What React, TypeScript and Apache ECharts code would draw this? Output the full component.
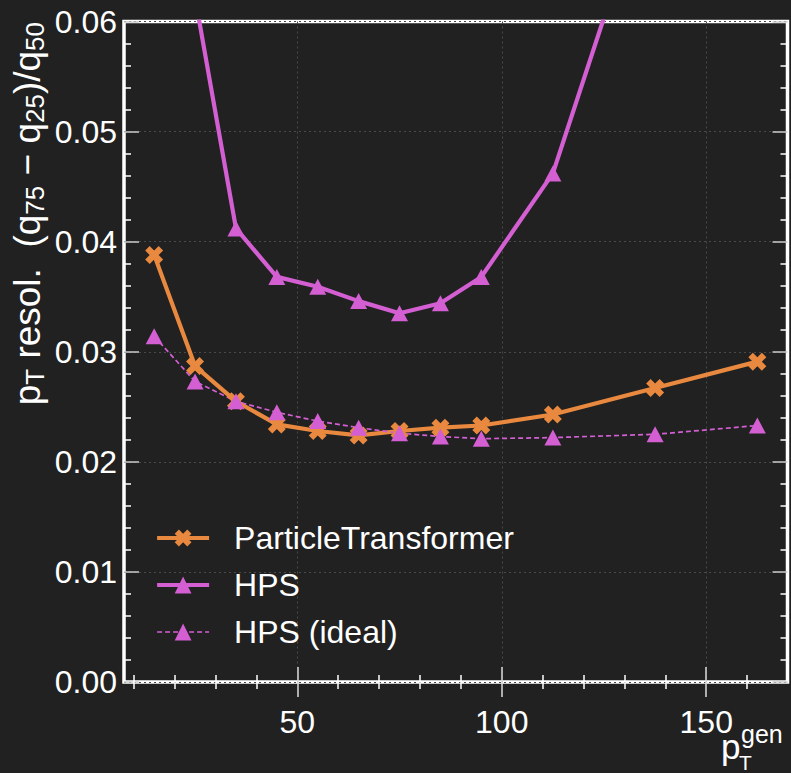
import React, { useEffect, useRef } from "react";
import * as echarts from "echarts";

const ptBins = [15, 25, 35, 45, 55, 65, 75, 85, 95, 112.5, 137.5, 162.5];
const partTransformer = [0.0388, 0.0287, 0.0255, 0.0234, 0.0228, 0.0224, 0.0228, 0.0231, 0.0233, 0.0243, 0.0267, 0.0291];
const hps = [0.085, 0.0622, 0.0412, 0.0368, 0.0359, 0.0346, 0.0335, 0.0344, 0.0368, 0.0462, 0.0745, 0.105];
const hpsIdeal = [0.0314, 0.0273, 0.0255, 0.0245, 0.0237, 0.0231, 0.0226, 0.0223, 0.0221, 0.0222, 0.0225, 0.0233];

const xMajor = [50, 100, 150];
const xMinor = [10, 20, 30, 40, 60, 70, 80, 90, 110, 120, 130, 140, 160];
const yMinor = [0.002, 0.004, 0.006, 0.008, 0.012, 0.014, 0.016, 0.018, 0.022, 0.024, 0.026, 0.028, 0.032, 0.034, 0.036, 0.038, 0.042, 0.044, 0.046, 0.048, 0.052, 0.054, 0.056, 0.058];

const X_MIN = 7.625;
const X_MAX = 169.875;

const ORANGE = "#e8893f";
const VIOLET = "#d35fd3";
const FONT = "Liberation Sans";
const X_SYMBOL = "path://M14,-28L28,-14L14,0L28,14L14,28L0,14L-14,28L-28,14L-14,0L-28,-14L-14,-28L0,-14Z";

export default function App() {
  const ref = useRef<HTMLDivElement>(null);
  useEffect(() => {
    document.body.style.margin = "0";
    const chart = echarts.init(ref.current!, null, { renderer: "svg" });
    const xAxisCommon = (pos: string, values: number[], len: number, color: string, labels: boolean, split: boolean) => ({
      type: "value",
      position: pos,
      min: X_MIN,
      max: X_MAX,
      axisLine: { show: false },
      axisTick: { show: true, inside: true, length: len, customValues: values, lineStyle: { color, width: 1.5 } },
      axisLabel: labels
        ? { show: true, customValues: values, margin: 24, color: "#ffffff", fontSize: 32, fontFamily: FONT }
        : { show: false },
      splitLine: split ? { show: true, lineStyle: { color: "#4a4a4a", type: [2, 3], width: 1 } } : { show: false },
    });
    const yAxisCommon = (pos: string, major: boolean, labels: boolean) => ({
      type: "value",
      position: pos,
      min: 0,
      max: 0.06,
      ...(major ? { interval: 0.01 } : {}),
      axisLine: { show: false },
      axisTick: major
        ? { show: true, inside: true, length: 15, lineStyle: { color: "#cccccc", width: 1.5 } }
        : { show: true, inside: true, length: 7, customValues: yMinor, lineStyle: { color: "#ffffff", width: 1.5 } },
      axisLabel: labels
        ? { show: true, margin: 7, color: "#ffffff", fontSize: 32, fontFamily: FONT, formatter: (v: number) => v.toFixed(2) }
        : { show: false },
      splitLine: major && labels ? { show: true, lineStyle: { color: "#4a4a4a", type: [2, 3], width: 1 } } : { show: false },
    });

    chart.setOption({
      animation: false,
      backgroundColor: "#212121",
      grid: { left: 124, right: 3.5, top: 21.5, bottom: 91, show: true, borderColor: "#ffffff", borderWidth: 3.5, backgroundColor: "transparent" },
      xAxis: [
        xAxisCommon("bottom", xMajor, 15, "#dddddd", true, true),
        xAxisCommon("bottom", xMinor, 7, "#ffffff", false, false),
        xAxisCommon("top", xMajor, 15, "#dddddd", false, false),
        xAxisCommon("top", xMinor, 7, "#ffffff", false, false),
      ],
      yAxis: [
        yAxisCommon("left", true, true),
        yAxisCommon("left", false, false),
        yAxisCommon("right", true, false),
        yAxisCommon("right", false, false),
      ],
      legend: {
        orient: "vertical",
        left: 155,
        top: 522,
        padding: 0,
        itemWidth: 52,
        itemHeight: 21,
        itemGap: 15,
        textStyle: { color: "#ffffff", fontSize: 32, fontFamily: FONT, lineHeight: 32, padding: [0, 0, 0, 20] },
        data: [
          { name: "ParticleTransformer", lineStyle: { width: 4.2 } },
          { name: "HPS", lineStyle: { width: 4.2 } },
          { name: "HPS (ideal)", lineStyle: { width: 1.7, type: [5, 3] } },
        ],
      },
      series: [
        {
          name: "ParticleTransformer",
          type: "line",
          data: ptBins.map((x, i) => [x, partTransformer[i]]),
          symbol: X_SYMBOL,
          symbolSize: 18,
          itemStyle: { color: ORANGE },
          lineStyle: { color: ORANGE, width: 4.2 },
        },
        {
          name: "HPS",
          type: "line",
          data: ptBins.map((x, i) => [x, hps[i]]),
          symbol: "triangle",
          symbolSize: [17, 16],
          itemStyle: { color: VIOLET },
          lineStyle: { color: VIOLET, width: 4.2 },
        },
        {
          name: "HPS (ideal)",
          type: "line",
          data: ptBins.map((x, i) => [x, hpsIdeal[i]]),
          symbol: "triangle",
          symbolSize: [17, 16],
          itemStyle: { color: VIOLET },
          lineStyle: { color: VIOLET, width: 1.7, type: [5, 3] },
        },
      ],
      graphic: [
        {
          type: "text",
          x: 27,
          y: 22,
          rotation: Math.PI / 2,
          style: {
            text: "{m|p}{s|T}{m| resol.  (q}{s|75}{m| − q}{s|25}{m|)/q}{s|50}",
            textAlign: "right",
            textVerticalAlign: "middle",
            fill: "#ffffff",
            rich: {
              m: { fontSize: 37, fontFamily: FONT, fill: "#ffffff", lineHeight: 42 },
              s: { fontSize: 26, fontFamily: FONT, fill: "#ffffff", lineHeight: 24, verticalAlign: "bottom" },
            },
          },
        },
        { type: "text", x: 721, y: 746, style: { text: "p", fontSize: 35, fontFamily: FONT, fill: "#ffffff", textVerticalAlign: "middle" } },
        { type: "text", x: 739, y: 762, style: { text: "T", fontSize: 21, fontFamily: FONT, fill: "#ffffff", textVerticalAlign: "middle" } },
        { type: "text", x: 741, y: 734, style: { text: "gen", fontSize: 25, fontFamily: FONT, fill: "#ffffff", textVerticalAlign: "middle" } },
      ],
    });
    return () => chart.dispose();
  }, []);
  return <div ref={ref} style={{ position: "fixed", left: 0, top: 0, width: 791, height: 773 }} />;
}
